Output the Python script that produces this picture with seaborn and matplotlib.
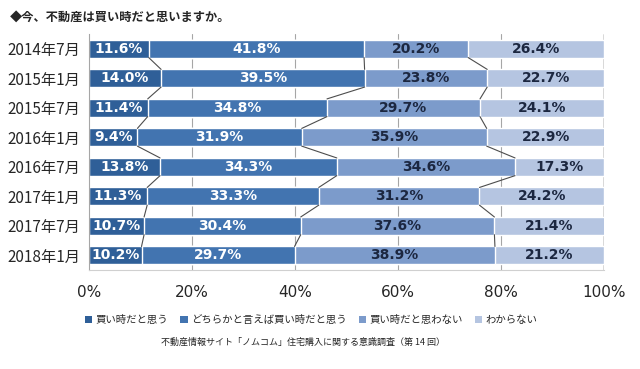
import numpy as np
import pandas as pd
import matplotlib
matplotlib.use("Agg")
import matplotlib.pyplot as plt
from matplotlib.patches import Patch
import seaborn as sns

periods = ["2014年7月", "2015年1月", "2015年7月", "2016年1月",
           "2016年7月", "2017年1月", "2017年7月", "2018年1月"]
series_names = ["買い時だと思う", "どちらかと言えば買い時だと思う", "買い時だと思わない", "わからない"]
buy_now = [11.6, 14.0, 11.4, 9.4, 13.8, 11.3, 10.7, 10.2]
rather_buy = [41.8, 39.5, 34.8, 31.9, 34.3, 33.3, 30.4, 29.7]
not_buy = [20.2, 23.8, 29.7, 35.9, 34.6, 31.2, 37.6, 38.9]
unknown = [26.4, 22.7, 24.1, 22.9, 17.3, 24.2, 21.4, 21.2]

colors = ["#2F5F98", "#4274B0", "#7C9BCB", "#B5C5E1"]
text_colors = ["white", "white", "#1C2740", "#1C2740"]

sns.set_style("white")
plt.rcParams["font.family"] = ["Noto Sans CJK JP", "DejaVu Sans"]

df = pd.DataFrame({"period": periods, series_names[0]: buy_now, series_names[1]: rather_buy,
                   series_names[2]: not_buy, series_names[3]: unknown})
vals = df[series_names].values
cum = vals.cumsum(axis=1)
start = cum - vals

fig = plt.figure(figsize=(6.4, 3.69), dpi=100)
ax = fig.add_axes([0.139, 0.268, 0.805, 0.64])

# grid first
for g in [20, 40, 60, 80]:
    ax.axvline(g, color="#A6A6A6", lw=0.8, zorder=0)
ax.axvline(100, color="#404040", lw=1.0, zorder=0)

# stacked bars: draw cumulative totals from the largest down
for k in range(3, -1, -1):
    sns.barplot(x=cum[:, k], y=df["period"], color=colors[k], width=0.6,
                orient="h", ax=ax, saturation=1, zorder=2)

# connector lines between bars
for i in range(len(periods) - 1):
    for k in range(3):
        ax.plot([cum[i, k], cum[i + 1, k]], [i + 0.3, i + 0.7],
                color="#4D4D4D", lw=0.8, zorder=3)

# segment labels
for i in range(len(periods)):
    for k in range(4):
        ax.text(start[i, k] + vals[i, k] / 2, i, f"{vals[i, k]:.1f}%",
                ha="center", va="center", color=text_colors[k],
                fontsize=10, fontweight="bold", family="DejaVu Sans", zorder=4)

ax.set_xlim(0, 100)
ax.set_ylim(7.5, -0.5)
ax.set_xticks([0, 20, 40, 60, 80, 100])
ax.set_xticklabels(["0%", "20%", "40%", "60%", "80%", "100%"], family="DejaVu Sans", fontsize=11)
ax.tick_params(axis="x", length=0, pad=11)
ax.tick_params(axis="y", length=0, pad=6, labelsize=11)
ax.set_xlabel("")
ax.set_ylabel("")
for s in ["top", "right"]:
    ax.spines[s].set_visible(False)
ax.spines["left"].set_color("#A6A6A6")
ax.spines["left"].set_linewidth(0.8)
ax.spines["bottom"].set_color("#D0D0D0")
ax.spines["bottom"].set_linewidth(0.8)

fig.text(0.016, 0.953, "◆今、不動産は買い時だと思いますか。", fontsize=8.8, fontweight="bold",
         va="center", ha="left")

handles = [Patch(facecolor=c, edgecolor="none") for c in colors]
fig.legend(handles, series_names, loc="center", bbox_to_anchor=(0.486, 0.133), ncol=4,
           frameon=False, fontsize=7.5, handlelength=0.7, handleheight=0.7,
           handletextpad=0.3, columnspacing=1.2)

fig.text(0.473, 0.073, "不動産情報サイト「ノムコム」住宅購入に関する意識調査（第 14 回）",
         fontsize=6.5, ha="center", va="center")

fig.savefig("out.png", dpi=100)
